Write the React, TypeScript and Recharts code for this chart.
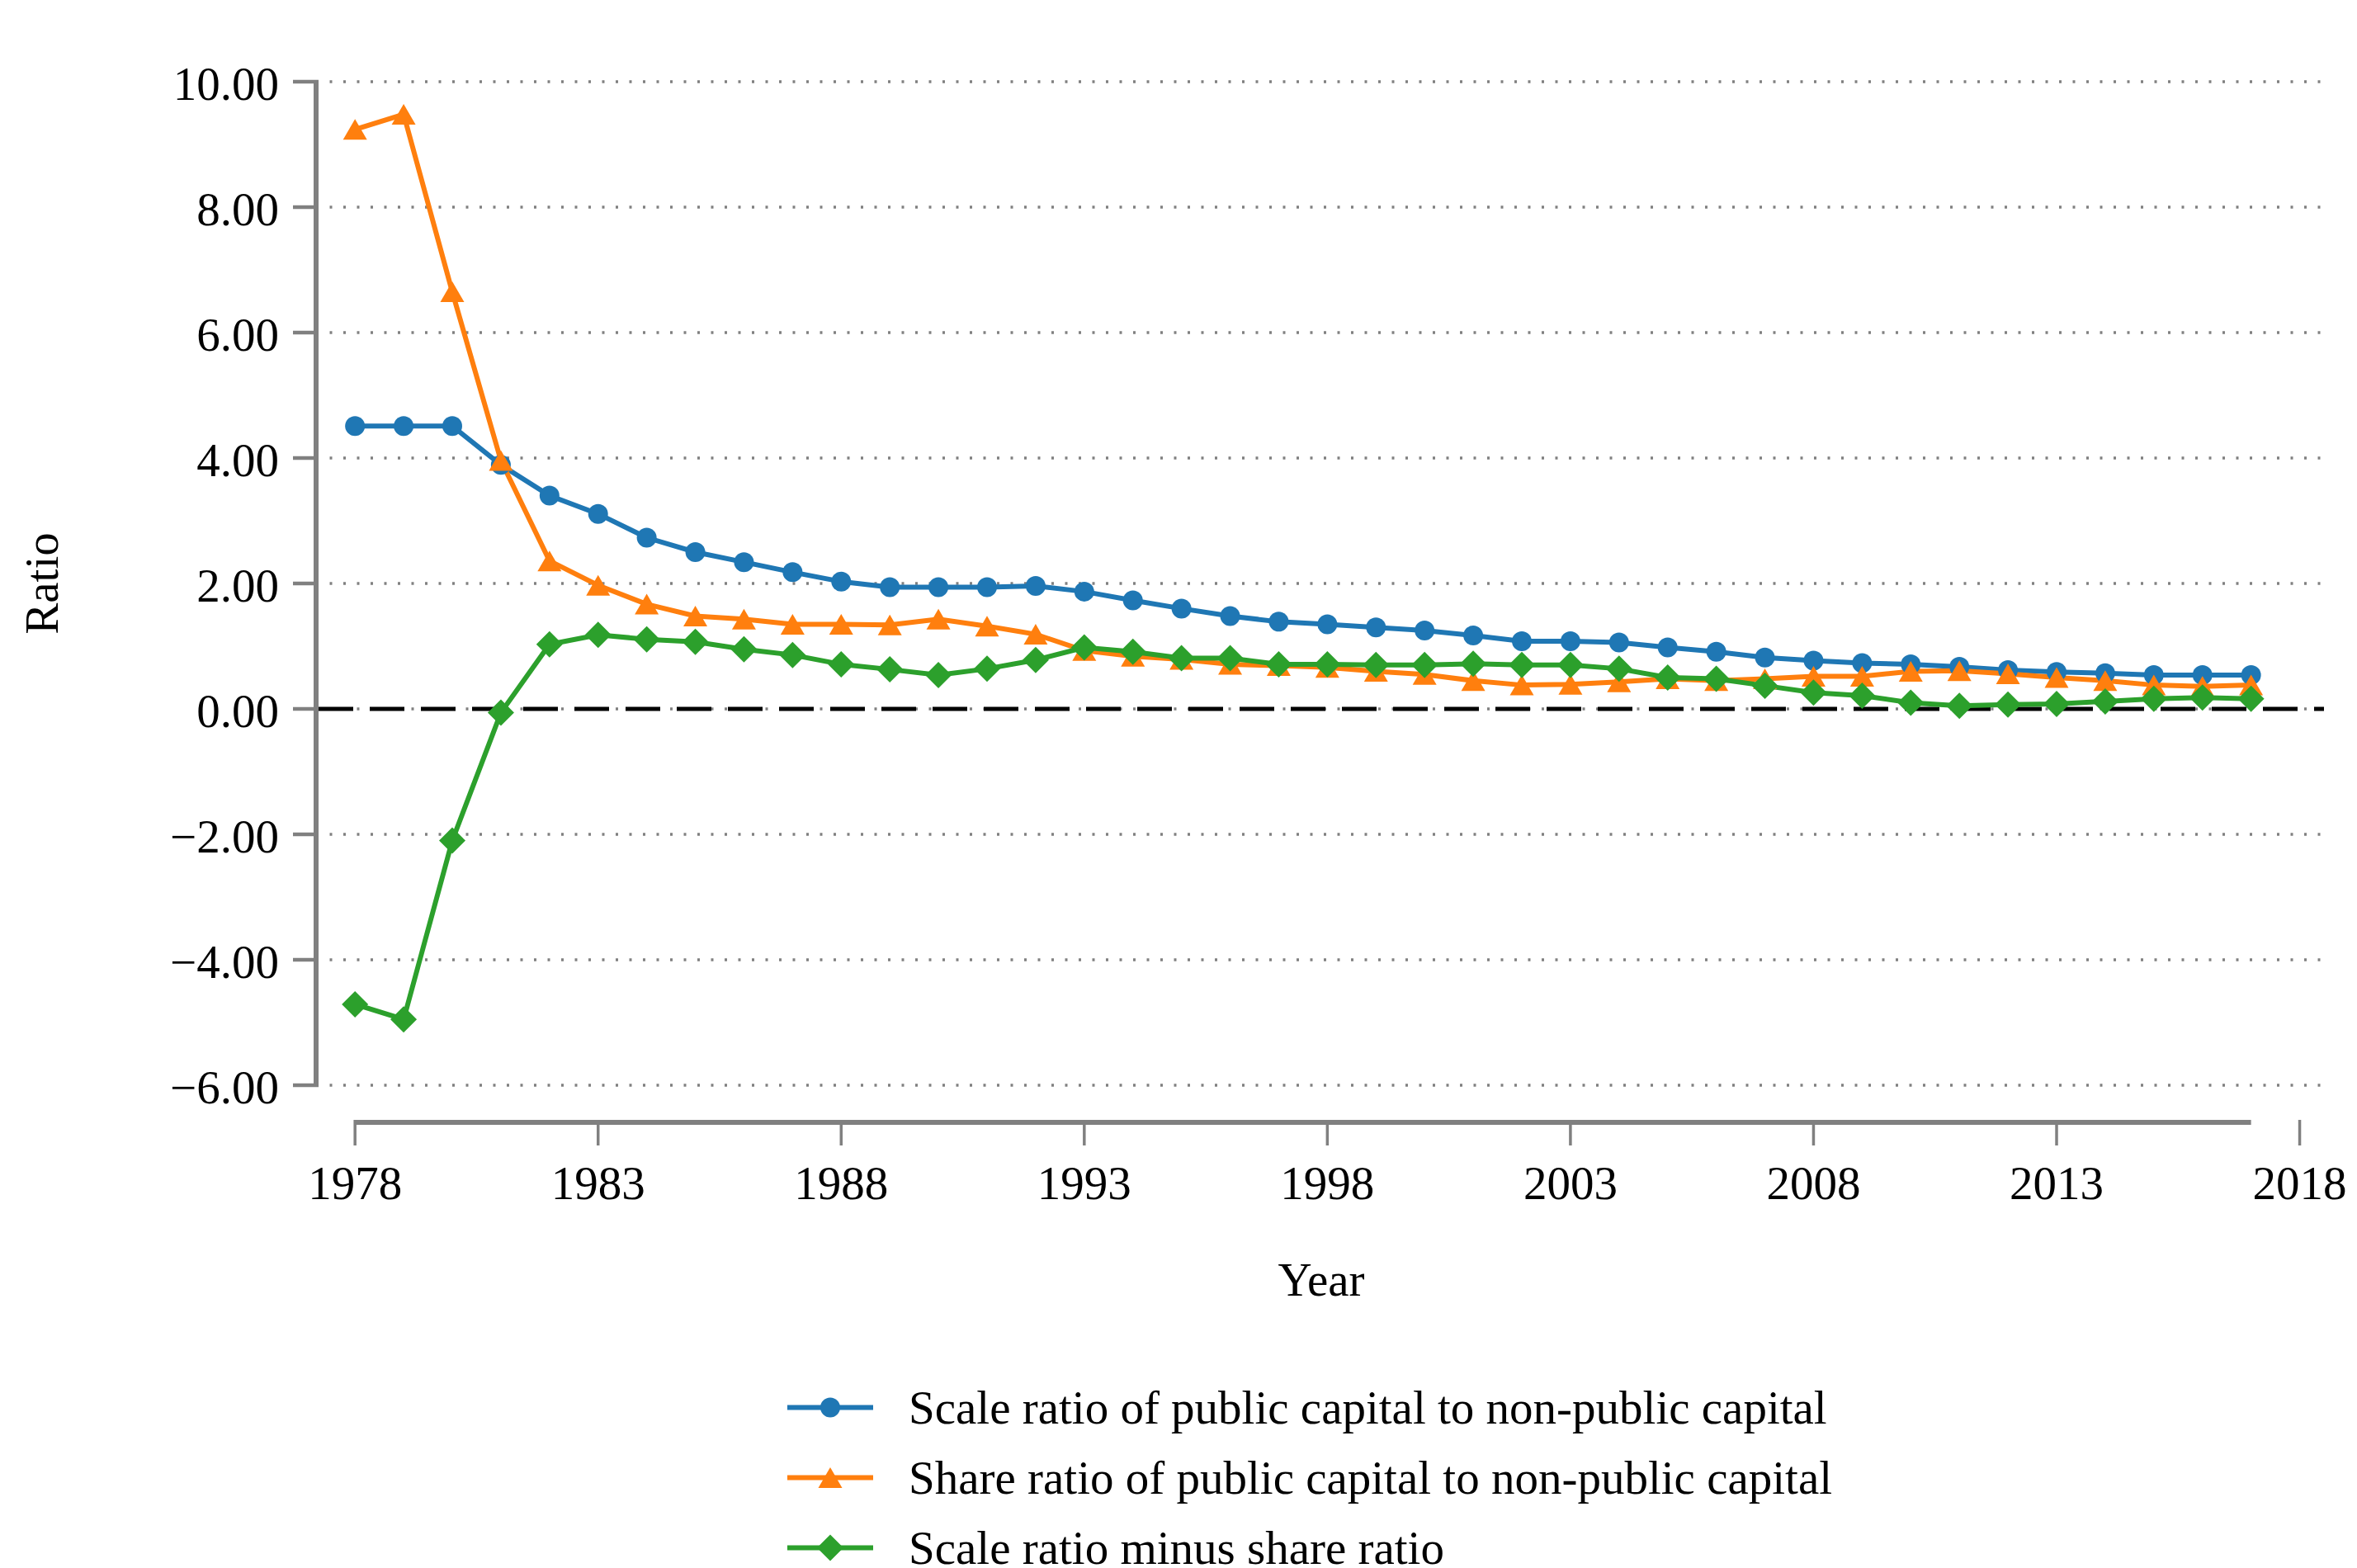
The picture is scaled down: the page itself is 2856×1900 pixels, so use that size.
import React from "react";
import { CartesianGrid, Legend, Line, LineChart, ReferenceLine, XAxis, YAxis } from "recharts";

const YEARS = [
  1978, 1979, 1980, 1981, 1982, 1983, 1984, 1985, 1986, 1987,
  1988, 1989, 1990, 1991, 1992, 1993, 1994, 1995, 1996, 1997,
  1998, 1999, 2000, 2001, 2002, 2003, 2004, 2005, 2006, 2007,
  2008, 2009, 2010, 2011, 2012, 2013, 2014, 2015, 2016, 2017,
];
const SCALE_RATIO = [
  4.51, 4.51, 4.51, 3.89, 3.4, 3.11, 2.73, 2.5, 2.34, 2.18,
  2.03, 1.94, 1.94, 1.94, 1.96, 1.87, 1.73, 1.6, 1.48, 1.39,
  1.35, 1.3, 1.25, 1.17, 1.08, 1.08, 1.06, 0.98, 0.91, 0.82,
  0.77, 0.73, 0.71, 0.67, 0.62, 0.59, 0.57, 0.54, 0.54, 0.54,
];
const SHARE_RATIO = [
  9.24, 9.48, 6.65, 3.96, 2.36, 1.97, 1.67, 1.48, 1.43, 1.35,
  1.35, 1.34, 1.43, 1.32, 1.19, 0.93, 0.84, 0.79, 0.71, 0.69,
  0.66, 0.6, 0.55, 0.45, 0.38, 0.39, 0.43, 0.48, 0.45, 0.48,
  0.52, 0.52, 0.6, 0.61, 0.56, 0.5, 0.45, 0.38, 0.36, 0.38,
];
const DIFF_RATIO = [
  -4.71, -4.95, -2.1, -0.06, 1.03, 1.18, 1.11, 1.07, 0.95, 0.86,
  0.71, 0.63, 0.54, 0.64, 0.78, 0.98, 0.91, 0.81, 0.81, 0.71,
  0.71, 0.7, 0.7, 0.72, 0.7, 0.7, 0.64, 0.5, 0.48, 0.37,
  0.26, 0.21, 0.1, 0.05, 0.07, 0.08, 0.12, 0.16, 0.18, 0.16,
];
const X_TICKS = [1978, 1983, 1988, 1993, 1998, 2003, 2008, 2013, 2018];
const Y_TICKS = [-6, -4, -2, 0, 2, 4, 6, 8, 10];

const SERIES = [
  { key: "scale", name: "Scale ratio of public capital to non-public capital", color: "#1f77b4", shape: "circle" },
  { key: "share", name: "Share ratio of public capital to non-public capital", color: "#ff7f0e", shape: "triangle" },
  { key: "diff", name: "Scale ratio minus share ratio", color: "#2ca02c", shape: "diamond" },
];

const GREY = "#808080";
const FONT = '"Liberation Serif", "Times New Roman", serif';
const FS = 57;

// layout
const W = 2848;
const H = 1892;
const TOP = 91;
const PLOT_H = 1216;
const Y_W = 378;
const RIGHT = 40;
const X_DOMAIN = [1977.25, 2018.5];
const Y_DOMAIN = [-6, 10];
const PX_PER_YEAR = (W - Y_W - RIGHT) / (X_DOMAIN[1] - X_DOMAIN[0]);
const PX_PER_UNIT = PLOT_H / (Y_DOMAIN[1] - Y_DOMAIN[0]);

const data = YEARS.map((year, i) => ({
  year,
  scale: SCALE_RATIO[i],
  share: SHARE_RATIO[i],
  diff: DIFF_RATIO[i],
}));

const fmtY = (v: number) => (v < 0 ? `\u2212${Math.abs(v).toFixed(2)}` : v.toFixed(2));

function Marker({ cx, cy, shape, color }: { cx: number; cy: number; shape: string; color: string }) {
  if (cx == null || cy == null) return null;
  if (shape === "circle") return <circle cx={cx} cy={cy} r={12} fill={color} />;
  if (shape === "triangle")
    return <path d={`M${cx},${cy - 12.5} L${cx + 14.5},${cy + 12.5} L${cx - 14.5},${cy + 12.5} Z`} fill={color} />;
  return <path d={`M${cx},${cy - 16} L${cx + 16},${cy} L${cx},${cy + 16} L${cx - 16},${cy} Z`} fill={color} />;
}

function XTick(props: any) {
  const { x, y, payload } = props;
  const v = payload.value as number;
  const last = YEARS[YEARS.length - 1];
  const seg = v < last ? Math.min(5, last - v) * PX_PER_YEAR : 0;
  return (
    <g>
      {seg > 0 && <line x1={x} x2={x + seg} y1={y + 45} y2={y + 45} stroke={GREY} strokeWidth={6} />}
      <line x1={x} x2={x} y1={y + 42} y2={y + 73} stroke={GREY} strokeWidth={3.5} />
      <text x={x} y={y + 118} textAnchor="middle" dominantBaseline="central" fontFamily={FONT} fontSize={FS} fill="#000">
        {v}
      </text>
    </g>
  );
}

function YTick(props: any) {
  const { x, y, payload } = props;
  const v = payload.value as number;
  const seg = v < Y_DOMAIN[1] ? 2 * PX_PER_UNIT : 0;
  return (
    <g>
      {seg > 0 && <line x1={x - 3} x2={x - 3} y1={y} y2={y - seg} stroke={GREY} strokeWidth={6} />}
      <line x1={x - 31} x2={x} y1={y} y2={y} stroke={GREY} strokeWidth={4.5} />
      <text x={x - 48} y={y + 2} textAnchor="end" dominantBaseline="central" fontFamily={FONT} fontSize={FS} fill="#000">
        {fmtY(v)}
      </text>
    </g>
  );
}

function RatioTitle(props: any) {
  const vb = props.viewBox;
  const cx = vb.x + 42;
  const cy = vb.y + vb.height / 2;
  return (
    <text x={cx} y={cy} transform={`rotate(-90 ${cx} ${cy})`} textAnchor="middle" dominantBaseline="central" fontFamily={FONT} fontSize={FS} fill="#000">
      Ratio
    </text>
  );
}

function YearTitle(props: any) {
  const vb = props.viewBox;
  return (
    <text x={vb.x + vb.width / 2} y={vb.y + 235} textAnchor="middle" dominantBaseline="central" fontFamily={FONT} fontSize={FS} fill="#000">
      Year
    </text>
  );
}

function LegendRows() {
  return (
    <div style={{ fontFamily: FONT, fontSize: FS, color: "#000" }}>
      {SERIES.map((s) => (
        <div key={s.key} style={{ display: "flex", alignItems: "center", height: 85, whiteSpace: "nowrap" }}>
          <svg width={147} height={85} style={{ flex: "none" }}>
            <line x1={0} x2={104} y1={42.5} y2={42.5} stroke={s.color} strokeWidth={6} />
            <Marker cx={52} cy={42.5} shape={s.shape} color={s.color} />
          </svg>
          <span style={{ lineHeight: 0.8 }}>{s.name}</span>
        </div>
      ))}
    </div>
  );
}

export default function App() {
  return (
    <div style={{ width: W, height: H, background: "#fff" }}>
      <LineChart width={W} height={H} data={data} margin={{ top: TOP, right: RIGHT, left: 0, bottom: 0 }}>
        <CartesianGrid vertical={false} stroke={GREY} strokeWidth={3.5} strokeDasharray="3 13.5" strokeDashoffset={3} />
        <XAxis
          dataKey="year"
          type="number"
          domain={X_DOMAIN}
          ticks={X_TICKS}
          interval={0}
          axisLine={false}
          tickLine={false}
          tickSize={0}
          tickMargin={0}
          height={H - TOP - PLOT_H}
          tick={<XTick />}
          label={<YearTitle />}
        />
        <YAxis
          type="number"
          domain={Y_DOMAIN}
          ticks={Y_TICKS}
          interval={0}
          axisLine={false}
          tickLine={false}
          tickSize={0}
          tickMargin={0}
          width={Y_W}
          tick={<YTick />}
          label={<RatioTitle />}
        />
        <ReferenceLine y={0} stroke="#000" strokeWidth={5} strokeDasharray="42 20" />
        {SERIES.map((s) => (
          <Line
            key={s.key}
            dataKey={s.key}
            name={s.name}
            type="linear"
            stroke={s.color}
            strokeWidth={6}
            dot={(p: any) => <Marker key={`${s.key}-${p.index}`} cx={p.cx} cy={p.cy} shape={s.shape} color={s.color} />}
            activeDot={false}
            isAnimationActive={false}
          />
        ))}
        <Legend
          layout="horizontal"
          verticalAlign="middle"
          align="center"
          wrapperStyle={{ left: 946, top: 1655, width: 1300, height: 237 }}
          content={() => <LegendRows />}
        />
      </LineChart>
    </div>
  );
}
